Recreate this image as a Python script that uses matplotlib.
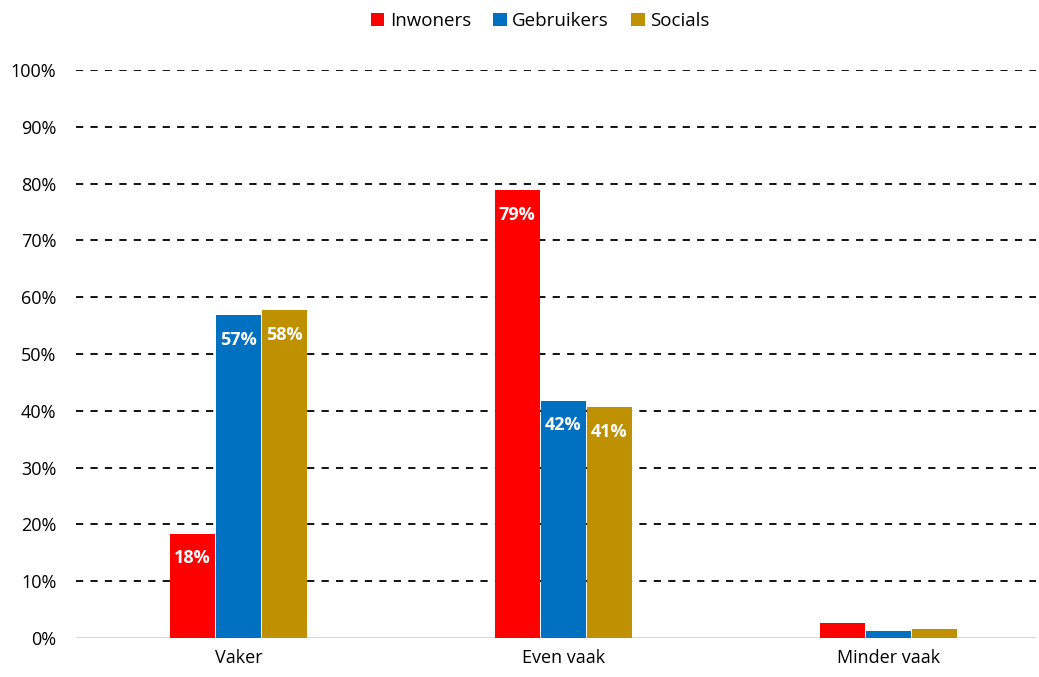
import matplotlib.pyplot as plt
import numpy as np

plt.rc('font', family='Open Sans')

categories = ['Vaker', 'Even vaak', 'Minder vaak']
series_names = ['Inwoners', 'Gebruikers', 'Socials']
inwoners = [18.3, 78.8, 2.6]
gebruikers = [56.8, 41.8, 1.2]
socials = [57.7, 40.6, 1.6]
show_labels = [True, True, False]

colors = ['#FF0000', '#0070C0', '#BF9000']
values = [inwoners, gebruikers, socials]

fig = plt.figure(figsize=(10.39, 6.77), dpi=100)
ax = fig.add_axes([0.073, 0.0576, 0.924, 0.839])

x = np.arange(len(categories))
width = 0.142
for i, (name, vals, color) in enumerate(zip(series_names, values, colors)):
    pos = x + (i - 1) * width
    bars = ax.bar(pos, vals, width=width * 0.98, color=color, label=name, zorder=3)
    for b, v, show in zip(bars, vals, show_labels):
        if show:
            ax.text(b.get_x() + b.get_width() / 2, v - 4.3, f"{v:.0f}%",
                    ha='center', va='center', color='white',
                    fontsize=13, fontweight='bold', zorder=4)

ax.set_xlim(-0.5, 2.454)
ax.set_ylim(0, 100)
ax.set_yticks(np.arange(0, 101, 10))
ax.set_yticklabels([f"{t}%" for t in range(0, 101, 10)], fontsize=13)
ax.set_xticks(x)
ax.set_xticklabels(categories, fontsize=13)
ax.tick_params(length=0, pad=8)
ax.tick_params(axis='y', pad=14)

for t in range(10, 101, 10):
    ax.axhline(t, color='black', linestyle=(0, (4, 4)), linewidth=1.3, zorder=1)
ax.axhline(0, color='#D9D9D9', linewidth=1.5, zorder=2)

for s in ax.spines.values():
    s.set_visible(False)

fig.legend(loc='upper center', bbox_to_anchor=(0.52, 1.007), ncol=3, frameon=False,
           fontsize=13.5, handlelength=0.7, handleheight=0.7, handletextpad=0.3,
           columnspacing=1.2)

fig.savefig('out.png', dpi=100)
